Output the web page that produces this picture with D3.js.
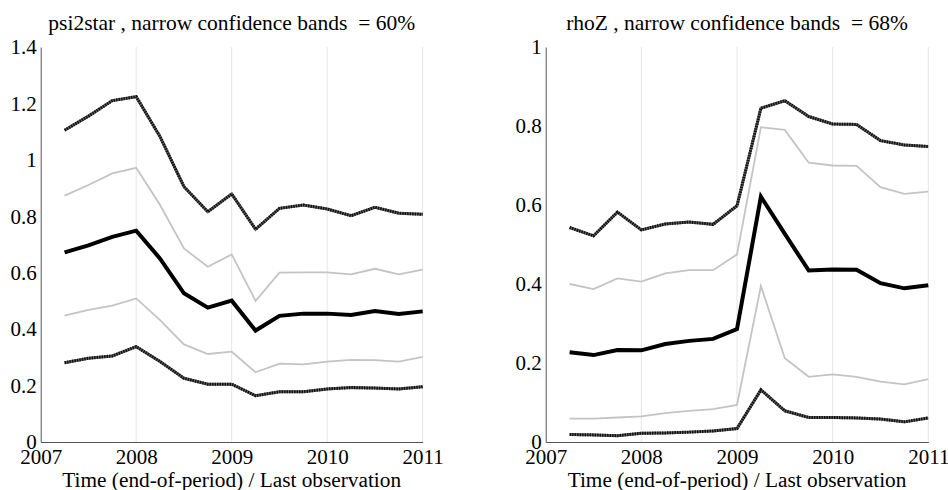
<!DOCTYPE html>
<html lang="en">
<head>
<meta charset="UTF-8">
<title>Confidence bands</title>
<script src="https://d3js.org/d3.v7.min.js"></script>
<style>
  body { margin: 0; background: #fff; }
</style>
</head>
<body>
<svg id="chart" width="948" height="490"></svg>
<script>
// quarterly dates, 2007Q2 .. 2011Q1 (end of period)
const quarters = [2007.25, 2007.5, 2007.75, 2008, 2008.25, 2008.5, 2008.75, 2009,
                  2009.25, 2009.5, 2009.75, 2010, 2010.25, 2010.5, 2010.75, 2011];
const xTicks = [2007, 2008, 2009, 2010, 2011];

// psi2star
const psiUpperWide = [1.105, 1.155, 1.21, 1.224, 1.082, 0.905, 0.816, 0.879, 0.754, 0.828, 0.840, 0.826, 0.802, 0.832, 0.811, 0.807];
const psiUpper     = [0.873, 0.911, 0.952, 0.972, 0.840, 0.686, 0.621, 0.665, 0.500, 0.600, 0.601, 0.601, 0.594, 0.614, 0.594, 0.611];
const psiMedian    = [0.672, 0.697, 0.727, 0.749, 0.650, 0.527, 0.476, 0.501, 0.395, 0.447, 0.455, 0.455, 0.450, 0.464, 0.454, 0.463];
const psiLower     = [0.448, 0.468, 0.483, 0.509, 0.432, 0.346, 0.312, 0.320, 0.247, 0.278, 0.275, 0.285, 0.291, 0.290, 0.285, 0.302];
const psiLowerWide = [0.281, 0.297, 0.305, 0.338, 0.285, 0.226, 0.205, 0.205, 0.164, 0.178, 0.178, 0.188, 0.193, 0.191, 0.188, 0.196];
const psiTicks = [0, 0.2, 0.4, 0.6, 0.8, 1, 1.2, 1.4];

// rhoZ
const rhoUpperWide = [0.543, 0.522, 0.582, 0.537, 0.552, 0.557, 0.551, 0.598, 0.845, 0.864, 0.824, 0.805, 0.804, 0.763, 0.752, 0.748];
const rhoUpper     = [0.400, 0.387, 0.414, 0.406, 0.427, 0.435, 0.435, 0.475, 0.797, 0.790, 0.707, 0.700, 0.699, 0.645, 0.628, 0.634];
const rhoMedian    = [0.227, 0.220, 0.233, 0.232, 0.248, 0.256, 0.261, 0.286, 0.621, 0.527, 0.434, 0.437, 0.436, 0.402, 0.389, 0.397];
const rhoLower     = [0.059, 0.059, 0.062, 0.065, 0.073, 0.079, 0.083, 0.094, 0.395, 0.212, 0.165, 0.171, 0.165, 0.153, 0.146, 0.159];
const rhoLowerWide = [0.019, 0.018, 0.016, 0.022, 0.023, 0.025, 0.028, 0.034, 0.132, 0.079, 0.062, 0.062, 0.061, 0.058, 0.051, 0.061];
const rhoTicks = [0, 0.2, 0.4, 0.6, 0.8, 1];

const FONT = "'Liberation Serif', 'Times New Roman', serif";
const svg = d3.select("#chart");
const plotTop = 47, plotBottom = 442;

function panel(opts) {
    const x = d3.scaleLinear().domain([2007, 2011]).range([opts.left, opts.right]);
    const y = d3.scaleLinear().domain([0, opts.yMax]).range([plotBottom, plotTop]);
    const g = svg.append("g");

    // vertical grid
    g.selectAll("line.grid").data(xTicks.slice(1)).enter().append("line")
        .attr("class", "grid")
        .attr("x1", d => x(d)).attr("x2", d => x(d))
        .attr("y1", plotTop).attr("y2", plotBottom)
        .attr("stroke", "#e6e6e6").attr("stroke-width", 1);

    const line = d3.line().x((d, i) => x(quarters[i])).y(d => y(d));

    // wide bands: dotted dark texture
    [opts.upperWide, opts.lowerWide].forEach(s => {
        g.append("path").datum(s).attr("d", line)
            .attr("fill", "none").attr("stroke", "#666").attr("stroke-width", 3);
        g.append("path").datum(s).attr("d", line)
            .attr("fill", "none").attr("stroke", "#111").attr("stroke-width", 3)
            .attr("stroke-dasharray", "1.5,1");
    });
    // narrow bands
    [opts.upper, opts.lower].forEach(s => {
        g.append("path").datum(s).attr("d", line)
            .attr("fill", "none").attr("stroke", "#c4c4c4").attr("stroke-width", 1.8);
    });
    // median
    g.append("path").datum(opts.median).attr("d", line)
        .attr("fill", "none").attr("stroke", "#000").attr("stroke-width", 4)
        .attr("stroke-linejoin", "miter");

    // axes
    const xAxis = g.append("g").attr("transform", `translate(0,${plotBottom})`)
        .call(d3.axisBottom(x).tickValues(xTicks).tickFormat(d3.format("d")).tickSize(0).tickPadding(7.5));
    const yAxis = g.append("g").attr("transform", `translate(${opts.left},0)`)
        .call(d3.axisLeft(y).tickValues(opts.yTicks).tickFormat(d => String(d)).tickSize(0).tickPadding(4));
    [xAxis, yAxis].forEach(a => {
        a.select(".domain").attr("stroke", "#555").attr("stroke-width", 1);
        a.selectAll("text").attr("fill", "#000")
            .style("font-family", FONT).style("font-size", "21px");
    });

    // title and x label
    g.append("text").attr("x", (opts.left + opts.right) / 2).attr("y", 30)
        .attr("text-anchor", "middle")
        .style("font-family", FONT).style("font-size", "21.5px")
        .style("white-space", "pre").text(opts.title);
    g.append("text").attr("x", (opts.left + opts.right) / 2).attr("y", 486.5)
        .attr("text-anchor", "middle")
        .style("font-family", FONT).style("font-size", "21.3px")
        .text("Time (end-of-period) / Last observation");
}

panel({ left: 40.7, right: 422.7, yMax: 1.4, yTicks: psiTicks,
        title: "psi2star , narrow confidence bands  = 60%",
        upperWide: psiUpperWide, upper: psiUpper, median: psiMedian, lower: psiLower, lowerWide: psiLowerWide });
panel({ left: 545.7, right: 928.3, yMax: 1, yTicks: rhoTicks,
        title: "rhoZ , narrow confidence bands  = 68%",
        upperWide: rhoUpperWide, upper: rhoUpper, median: rhoMedian, lower: rhoLower, lowerWide: rhoLowerWide });
</script>
</body>
</html>
